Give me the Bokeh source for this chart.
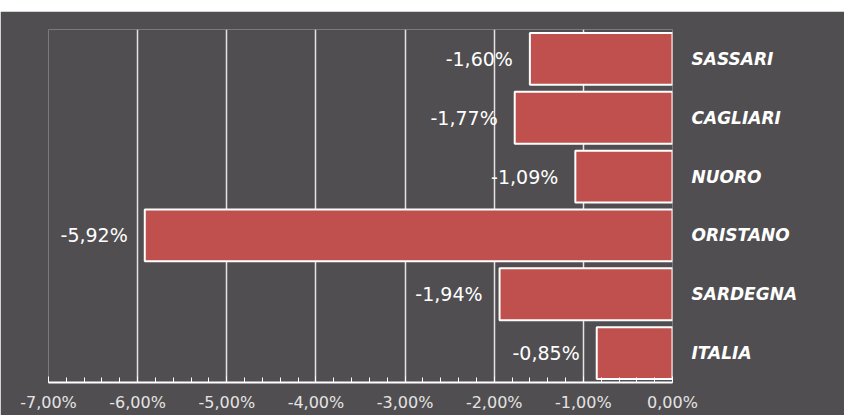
from bokeh.plotting import figure
from bokeh.models import ColumnDataSource, Range1d, FactorRange, LabelSet, CustomJSTickFormatter, FixedTicker
from bokeh.core.properties import value
from bokeh.embed import file_html
from bokeh.resources import INLINE

categories = ["SASSARI", "CAGLIARI", "NUORO", "ORISTANO", "SARDEGNA", "ITALIA"]
values = [-1.60, -1.77, -1.09, -5.92, -1.94, -0.85]
value_labels = ["-1,60%", "-1,77%", "-1,09%", "-5,92%", "-1,94%", "-0,85%"]
x_ticks = [-7, -6, -5, -4, -3, -2, -1, 0]

BG = "#504e50"

source = ColumnDataSource(dict(cat=categories, val=values, zero=[0] * len(values), lab=value_labels))

p = figure(width=844, height=404, output_backend="svg", toolbar_location=None,
           x_range=Range1d(-7, 0), y_range=FactorRange(*reversed(categories)),
           y_axis_location="right", margin=(11, 0, 0, 0),
           min_border_left=48, min_border_right=172, min_border_top=18, min_border_bottom=33)
p.background_fill_color = BG
p.border_fill_color = BG
p.outline_line_color = None

p.hbar(y="cat", left="val", right="zero", height=0.88, source=source,
       fill_color="#c0504d", line_color="white", line_width=2)

labels = LabelSet(x="val", y="cat", text="lab", source=source, x_offset=-17,
                  text_align="right", text_baseline="middle", text_color="white",
                  text_font=value("DejaVu Sans"), text_font_size=value("19px"))
p.add_layout(labels)

p.xgrid.grid_line_color = "white"
p.xgrid.grid_line_alpha = 0.85
p.xgrid.grid_line_width = 1.5
p.ygrid.grid_line_color = None

xa = p.xaxis[0]
xa.ticker = FixedTicker(ticks=x_ticks, minor_ticks=[t / 5 for t in range(-35, 1)])
xa.formatter = CustomJSTickFormatter(code="return tick.toFixed(2).replace('.', ',') + '%';")
xa.axis_line_color = "white"
xa.axis_line_width = 2
xa.major_tick_line_color = "white"
xa.major_tick_in = 6
xa.major_tick_out = 0
xa.minor_tick_line_color = "white"
xa.minor_tick_in = 5
xa.minor_tick_out = 0
xa.major_label_standoff = 10
xa.major_label_text_color = "#e4e4e4"
xa.major_label_text_font = "DejaVu Sans"
xa.major_label_text_font_size = "16px"

ya = p.yaxis[0]
ya.axis_line_color = None
ya.major_tick_line_color = None
ya.minor_tick_line_color = None
ya.major_label_standoff = 13
ya.major_label_text_color = "white"
ya.major_label_text_font = "DejaVu Sans"
ya.major_label_text_font_style = "bold italic"
ya.major_label_text_font_size = "17px"

open("out.html", "w").write(file_html(p, INLINE))
